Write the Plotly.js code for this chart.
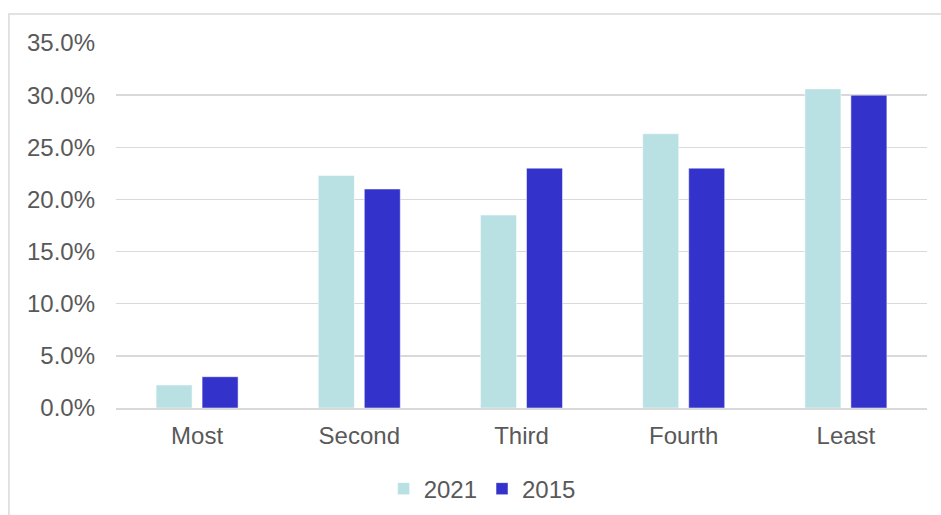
<!DOCTYPE html>
<html><head><meta charset="utf-8">
<script src="https://cdn.plot.ly/plotly-3.0.1.min.js"></script>
<style>html,body{margin:0;padding:0;background:#fff}</style>
</head><body>
<div id="chart" style="width:941px;height:515px"></div>
<script>
const categories = ["Most", "Second", "Third", "Fourth", "Least"];
const values2021 = [0.022, 0.223, 0.185, 0.263, 0.306];
const values2015 = [0.030, 0.210, 0.230, 0.230, 0.300];
const seriesNames = ["2021", "2015"];
const yTickVals = [0, 0.05, 0.10, 0.15, 0.20, 0.25, 0.30, 0.35];

const font = {family: "Liberation Sans, Arial, sans-serif", size: 24, color: "#595959"};

const traces = [
  {type: "bar", name: seriesNames[0], x: categories, y: values2021,
   marker: {color: "#b9e0e3", line: {color: "#ffffff", width: 0.5}}},
  {type: "bar", name: seriesNames[1], x: categories, y: values2015,
   marker: {color: "#3333cc", line: {color: "#ffffff", width: 0.5}}}
];

const layout = {
  width: 941, height: 515,
  margin: {l: 116, r: 14, t: 43, b: 107, autoexpand: false},
  paper_bgcolor: "#ffffff", plot_bgcolor: "#ffffff",
  font: font,
  barmode: "group",
  bargap: 0.433,
  bargroupgap: 0.217,
  showlegend: true,
  legend: {orientation: "h", x: 0.33, xanchor: "left", y: -0.222, yanchor: "middle",
           font: font, itemwidth: 30, tracegroupgap: 0},
  xaxis: {type: "category", showgrid: false, ticks: "", showline: true,
          linecolor: "#d9d9d9", linewidth: 1.5, tickfont: font, zeroline: false,
          ticklabelstandoff: 6},
  yaxis: {range: [0, 0.35], tickvals: yTickVals, tickformat: ".1%",
          showgrid: true, gridcolor: "#d9d9d9", gridwidth: 1.5, zeroline: false,
          showline: false, ticks: "", tickfont: font, ticklabelstandoff: 20},
  shapes: [
    {type: "rect", xref: "paper", yref: "paper", x0: -0.132, x1: 1.2, y0: -0.5, y1: 1.0795,
     line: {color: "#d9d9d9", width: 1.5}, fillcolor: "rgba(0,0,0,0)", layer: "below"}
  ]
};

Plotly.newPlot("chart", traces, layout, {displayModeBar: false, staticPlot: true});
</script>
</body></html>
